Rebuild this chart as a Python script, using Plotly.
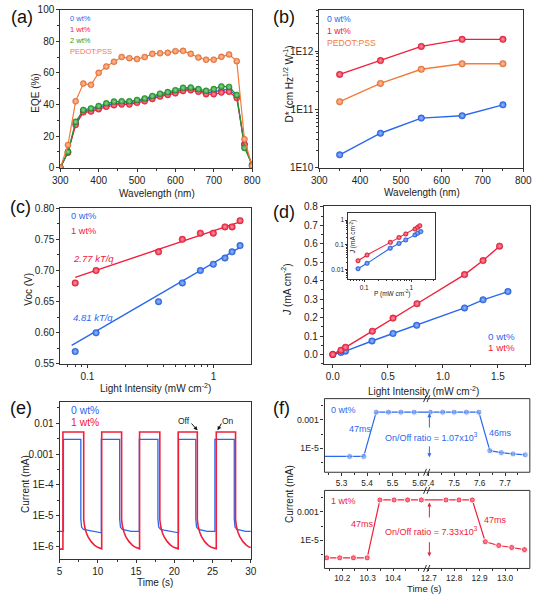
import plotly.graph_objects as go

W, H = 543, 599
FONT = "Liberation Sans"
BLUE = "#2a68ee"
RED = "#f0203c"
ORANGE = "#f67a3a"
GREEN = "#1f9a28"
AX = "#333333"

# ---------------- data ----------------
# (a) EQE
eqe_wl = [300, 320, 340, 360, 380, 400, 420, 440, 460, 480, 500, 520, 540, 560,
          580, 600, 620, 640, 660, 680, 700, 720, 740, 760, 780, 800]
eqe_0wt = [0, 10, 28, 36, 36.5, 38, 39.5, 40.5, 41, 41, 42, 43, 44.5, 46, 47, 48,
           49.5, 50, 49, 47.5, 48, 49, 49.5, 45, 15, 1.5]
eqe_1wt = [0, 9.5, 27, 35, 35.5, 37, 38.5, 39.5, 40, 40, 41, 42, 43.5, 45, 46, 47,
           48.5, 49, 48, 46.5, 46.5, 47.5, 48, 44, 14.5, 1]
eqe_2wt = [0, 10, 29, 36.5, 37.5, 39, 40.7, 41.8, 42, 42, 42.8, 43.8, 45.3, 46.8,
           47.8, 49, 50.5, 50.7, 49.7, 48.6, 49.7, 51.4, 51.1, 46, 12.5, 2]
eqe_pedot = [0, 14.4, 42, 53.2, 52.4, 60, 64, 67, 70, 69.3, 68.7, 70, 72, 72.4,
             72.7, 73.7, 73.9, 72, 69.7, 68.3, 68.3, 70.1, 71.6, 67.4, 18, 1]

# (b) detectivity
d_wl = [350, 450, 550, 650, 750]
d_0wt = [1.66e10, 3.9e10, 7.1e10, 7.8e10, 1.2e11]
d_1wt = [4.0e11, 6.9e11, 1.21e12, 1.6e12, 1.6e12]
d_pedot = [1.36e11, 2.8e11, 4.9e11, 6.1e11, 6.1e11]

# (c) Voc vs light intensity
c_int = [0.08, 0.117, 0.366, 0.565, 0.785, 0.994, 1.23, 1.40, 1.62]
c_voc_0wt = [0.57, 0.60, 0.65, 0.68, 0.70, 0.71, 0.72, 0.73, 0.74]
c_voc_1wt = [0.68, 0.70, 0.73, 0.75, 0.76, 0.76, 0.77, 0.77, 0.78]
c_fit0_x = [0.075, 1.62]
c_fit0_y = [0.58, 0.737]
c_fit1_x = [0.08, 1.62]
c_fit1_y = [0.689, 0.778]

# (d) J vs light intensity
j_int_0wt = [0, 0.074, 0.115, 0.356, 0.547, 0.762, 1.197, 1.365, 1.591]
j_0wt = [0, 0.011, 0.018, 0.073, 0.114, 0.158, 0.252, 0.296, 0.341]
j_int_1wt = [0, 0.074, 0.115, 0.359, 0.547, 0.765, 1.197, 1.365, 1.515]
j_1wt = [0, 0.023, 0.039, 0.126, 0.197, 0.275, 0.433, 0.509, 0.587]

# (e) on/off switching
e_red_on = [5.43, 10.50, 15.45, 20.50, 25.48]
e_red_off = [8.15, 13.10, 18.10, 23.00, 28.00]
e_red_high = 5.2e-3
e_red_start = 8.3e-7
e_red_decay_dt = [0.0, 0.13, 0.34, 0.55, 0.97, 1.4, 1.82, 2.3]
e_red_decay = [7.4e-6, 4.3e-6, 2.8e-6, 2.1e-6, 1.45e-6, 1.12e-6, 9.5e-7, 8.5e-7]
e_blue_on = [5.50, 10.45, 15.42, 20.55, 25.30]
e_blue_off = [7.77, 12.85, 17.85, 22.80, 27.83]
e_blue_high = 3.0e-3
e_blue_start = 3.1e-6
e_blue_decay_dt = [0.0, 0.1, 0.35, 0.8, 1.5, 2.6]
e_blue_decay = [7.9e-6, 4.3e-6, 3.6e-6, 3.4e-6, 3.1e-6, 2.8e-6]

# (f) response time
f0_t = [5.20, 5.332, 5.387, 5.436, 5.484, 5.533, 5.585, 7.406, 7.455, 7.500, 7.548,
        7.597, 7.640, 7.685, 7.731, 7.779]
f0_I = [2.7e-6, 2.7e-6, 2.7e-6, 3.55e-3, 3.55e-3, 3.55e-3, 3.55e-3, 3.55e-3, 3.55e-3,
        3.55e-3, 3.55e-3, 3.55e-3, 6.9e-6, 5.0e-6, 4.1e-6, 3.5e-6]
f1_t = [10.139, 10.19, 10.244, 10.298, 10.348, 10.404, 10.457, 10.511, 12.768, 12.819,
        12.871, 12.922, 12.975, 13.026, 13.076]
f1_I = [5.8e-7, 5.8e-7, 5.8e-7, 5.8e-7, 6.8e-3, 6.8e-3, 6.8e-3, 6.8e-3, 6.8e-3, 6.8e-3,
        6.8e-3, 7.9e-6, 4.3e-6, 3.1e-6, 2.2e-6]

# ---------------- helpers ----------------
def xd(a, b):
    return [a / W, b / W]

def yd(top, bot):
    return [1 - bot / H, 1 - top / H]

def px(x):
    return x / W

def py(y):
    return 1 - y / H

def tint(hexc, f):
    r, g, b = int(hexc[1:3], 16), int(hexc[3:5], 16), int(hexc[5:7], 16)
    r, g, b = [int(c + (255 - c) * f) for c in (r, g, b)]
    return "rgb(%d,%d,%d)" % (r, g, b)

def shade(hexc, f):
    r, g, b = int(hexc[1:3], 16), int(hexc[3:5], 16), int(hexc[5:7], 16)
    r, g, b = [int(c * f) for c in (r, g, b)]
    return "rgb(%d,%d,%d)" % (r, g, b)

def mk(color, size):
    return dict(color=color, size=size, line=dict(color=shade(color, 0.8), width=0.5),
                gradient=dict(type="radial", color=tint(color, 0.55)))

def ax(**kw):
    d = dict(showline=True, mirror=True, linecolor=AX, linewidth=1, ticks="outside",
             ticklen=3, tickwidth=1, tickcolor=AX, showgrid=False, zeroline=False,
             tickfont=dict(size=10, color="#222", family=FONT))
    d.update(kw)
    return d

def minor(vals=None, dtick=None, ln=2):
    m = dict(ticks="outside", ticklen=ln, tickwidth=1, tickcolor=AX, showgrid=False)
    if vals is not None:
        m["tickmode"] = "array"
        m["tickvals"] = vals
    if dtick is not None:
        m["dtick"] = dtick
    return m

def decades(lo, hi):
    out = []
    for e in range(lo, hi):
        for k in (2, 3, 4, 5, 6, 7, 8, 9):
            out.append(k * 10 ** e)
    return out

fig = go.Figure()

def line_trace(x, y, color, xa, ya, size=6.5, width=1.2, mode="lines+markers", clip=True, sizes=None):
    m = mk(color, size if sizes is None else sizes)
    fig.add_trace(go.Scatter(x=x, y=y, mode=mode, xaxis=xa, yaxis=ya,
                             line=dict(color=color, width=width), marker=m,
                             cliponaxis=clip, showlegend=False, hoverinfo="skip"))

# (a)
line_trace(eqe_wl, eqe_0wt, BLUE, "x", "y", size=6)
line_trace(eqe_wl, eqe_1wt, RED, "x", "y", size=6)
line_trace(eqe_wl, eqe_2wt, GREEN, "x", "y", size=6)
line_trace(eqe_wl, eqe_pedot, ORANGE, "x", "y", size=6)
# (b)
line_trace(d_wl, d_0wt, BLUE, "x2", "y2", size=6.5, width=1.4)
line_trace(d_wl, d_1wt, RED, "x2", "y2", size=6.5, width=1.4)
line_trace(d_wl, d_pedot, ORANGE, "x2", "y2", size=6.5, width=1.4)
# (c)
line_trace(c_fit0_x, c_fit0_y, BLUE, "x3", "y3", mode="lines", width=1.4)
line_trace(c_fit1_x, c_fit1_y, RED, "x3", "y3", mode="lines", width=1.4)
line_trace(c_int, c_voc_0wt, BLUE, "x3", "y3", mode="markers", size=6.5)
line_trace(c_int, c_voc_1wt, RED, "x3", "y3", mode="markers", size=6.5)
# (d)
line_trace(j_int_0wt, j_0wt, BLUE, "x4", "y4", size=6.5, width=1.4)
line_trace(j_int_1wt, j_1wt, RED, "x4", "y4", size=6.5, width=1.4)
# (d) inset
line_trace(j_int_0wt[1:], j_0wt[1:], BLUE, "x5", "y5", size=4.5, width=1.1)
line_trace(j_int_1wt[1:], j_1wt[1:], RED, "x5", "y5", size=4.5, width=1.1)

# (e) build square-wave series from on/off times
def wave(t0, start, ons, offs, high, ddt, dv, tend):
    t, v = [t0], [start]
    last = start
    for i, (a, b) in enumerate(zip(ons, offs)):
        t += [a, a, b]
        v += [last, high, high]
        nxt = ons[i + 1] if i + 1 < len(ons) else tend
        for dt, val in zip(ddt, dv):
            if b + dt < nxt:
                t.append(b + dt)
                v.append(val)
                last = val
        if nxt == tend:
            t.append(tend)
            v.append(last)
    return t, v

bt, bv = wave(5.0, e_blue_start, e_blue_on, e_blue_off, e_blue_high, e_blue_decay_dt, e_blue_decay, 30.0)
rt, rv = wave(5.0, e_red_start, e_red_on, e_red_off, e_red_high, e_red_decay_dt, e_red_decay, 30.0)
fig.add_trace(go.Scatter(x=bt, y=bv, mode="lines", xaxis="x6", yaxis="y6",
                         line=dict(color=BLUE, width=1.3), showlegend=False, hoverinfo="skip"))
fig.add_trace(go.Scatter(x=rt, y=rv, mode="lines", xaxis="x6", yaxis="y6",
                         line=dict(color=RED, width=1.6), showlegend=False, hoverinfo="skip"))

# (f)
f0_sizes = [0] + [6] * (len(f0_t) - 1)
for xa in ("x7", "x8"):
    fig.add_trace(go.Scatter(x=f0_t, y=f0_I, mode="lines+markers", xaxis=xa, yaxis="y7",
                             line=dict(color=BLUE, width=1.2),
                             marker=dict(color=BLUE, size=f0_sizes, line=dict(color="white", width=1),
                                         gradient=dict(type="radial", color=tint(BLUE, 0.55))),
                             showlegend=False, hoverinfo="skip"))
for xa in ("x9", "x10"):
    fig.add_trace(go.Scatter(x=f1_t, y=f1_I, mode="lines+markers", xaxis=xa, yaxis="y9",
                             line=dict(color=RED, width=1.2),
                             marker=dict(color=RED, size=6, line=dict(color="white", width=1),
                                         gradient=dict(type="radial", color=tint(RED, 0.55))),
                             showlegend=False, hoverinfo="skip"))

# ---------------- axes ----------------
lay = dict(
    xaxis=ax(domain=xd(54, 252), range=[300, 800], dtick=100, anchor="y", minor=minor(dtick=50)),
    yaxis=ax(domain=yd(4.7, 165.7), range=[0, 100], dtick=20, anchor="x", minor=minor(dtick=10)),
    xaxis2=ax(domain=xd(321.3, 532), range=[300, 800], dtick=100, anchor="y2", minor=minor(dtick=50)),
    yaxis2=ax(domain=yd(5, 165.7), type="log", range=[10, 12.71], anchor="x2",
              tickvals=[1e10, 1e11, 1e12], ticktext=["1E10", "1E11", "1E12"],
              minor=minor(vals=decades(10, 13))),
    xaxis3=ax(domain=xd(54, 250.7), type="log", range=[-1.215, 0.295], anchor="y3",
              tickvals=[0.1, 1], ticktext=["0.1", "1"],
              minor=minor(vals=decades(-2, 1))),
    yaxis3=ax(domain=yd(207, 365.7), range=[0.55, 0.80], anchor="x3",
              tickvals=[0.55, 0.60, 0.65, 0.70, 0.75, 0.80],
              ticktext=["0.55", "0.60", "0.65", "0.70", "0.75", "0.80"],
              minor=minor(dtick=0.025)),
    xaxis4=ax(domain=xd(326, 538.7), range=[-0.082, 1.79], anchor="y4",
              tickvals=[0, 0.5, 1.0, 1.5], ticktext=["0.0", "0.5", "1.0", "1.5"],
              minor=minor(dtick=0.25)),
    yaxis4=ax(domain=yd(204.7, 365.7), range=[-0.0516, 0.805], anchor="x4",
              tickvals=[0, 0.1, 0.2, 0.3, 0.4, 0.5, 0.6, 0.7, 0.8],
              ticktext=["0.0", "0.1", "0.2", "0.3", "0.4", "0.5", "0.6", "0.7", "0.8"],
              minor=minor(dtick=0.05)),
    xaxis5=ax(domain=xd(351.3, 441.3), type="log", range=[-1.337, 0.513], anchor="y5",
              tickvals=[0.1, 1], ticktext=["0.1", "1"], ticklen=2,
              tickfont=dict(size=6.5, color="#222", family=FONT),
              minor=minor(vals=decades(-2, 1), ln=1.2)),
    yaxis5=ax(domain=yd(211.7, 279), type="log", range=[-2.37, 0.29], anchor="x5",
              tickvals=[0.01, 0.1, 1], ticktext=["0.01", "0.1", "1"], ticklen=2,
              tickfont=dict(size=6.5, color="#222", family=FONT),
              minor=minor(vals=decades(-3, 1), ln=1.2)),
    xaxis6=ax(domain=xd(53.3, 250.7), range=[5, 30], dtick=5, anchor="y6", minor=minor(dtick=2.5)),
    yaxis6=ax(domain=yd(404.7, 564), type="log", range=[-6.39, -1.32], anchor="x6",
              tickvals=[1e-6, 1e-5, 1e-4, 1e-3, 1e-2],
              ticktext=["1E-6", "1E-5", "1E-4", "0.001", "0.01"],
              minor=minor(vals=[10 ** (e + 0.5) for e in range(-7, -1)])),
)

ftick = dict(size=8.3, color="#222", family=FONT)
def fax(dom, rng, anchor, vals, texts, mvals, tl=2.5):
    return ax(domain=dom, range=rng, anchor=anchor, showline=False, mirror=False, ticklen=tl,
              tickvals=vals, ticktext=texts, tickfont=ftick, minor=minor(vals=mvals, ln=1.5))

lay["xaxis7"] = fax(xd(326.7, 434.3), [5.233, 5.642], "y7", [5.3, 5.4, 5.5, 5.6],
                    ["5.3", "5.4", "5.5", "5.6"], [5.25, 5.35, 5.45, 5.55])
lay["xaxis8"] = fax(xd(434.3, 538.7), [7.4, 7.797], "y7", [7.4, 7.5, 7.6, 7.7],
                    ["7.4", "7.5", "7.6", "7.7"], [7.45, 7.55, 7.65, 7.75])
lay["xaxis9"] = fax(xd(326.7, 434.3), [10.13, 10.54], "y9", [10.2, 10.3, 10.4],
                    ["10.2", "10.3", "10.4"], [10.15, 10.25, 10.35, 10.45, 10.5], tl=2)
lay["xaxis10"] = fax(xd(434.3, 538.7), [12.7, 13.097], "y9", [12.7, 12.8, 12.9, 13.0],
                     ["12.7", "12.8", "12.9", "13.0"], [12.75, 12.85, 12.95, 13.05], tl=2)
lay["yaxis7"] = ax(domain=yd(401, 476), type="log", range=[-6.68, -1.50], anchor="x7",
                   showline=False, mirror=False, tickfont=dict(size=8.7, color="#222", family=FONT),
                   tickvals=[1e-5, 1e-3], ticktext=["1E-5", "0.001"],
                   minor=minor(vals=[1e-6, 1e-4, 1e-2]))
lay["yaxis9"] = ax(domain=yd(494.5, 574), type="log", range=[-6.98, -1.50], anchor="x9",
                   showline=False, mirror=False, tickfont=dict(size=8.7, color="#222", family=FONT),
                   tickvals=[1e-5, 1e-3], ticktext=["1E-5", "0.001"],
                   minor=minor(vals=[1e-6, 1e-4, 1e-2]))

# ---------------- annotations ----------------
ann = []

def txt(x, y, s, size=10, color="#222", xanchor="left", angle=0, yanchor="middle"):
    ann.append(dict(x=px(x), y=py(y), xref="paper", yref="paper", text=s, showarrow=False,
                    xanchor=xanchor, yanchor=yanchor, textangle=angle,
                    font=dict(size=size, color=color, family=FONT)))

def arrow(hx, hy, tx, ty, color):
    ann.append(dict(x=px(hx), y=py(hy), xref="paper", yref="paper", text="", showarrow=True,
                    ax=tx - hx, ay=ty - hy, arrowhead=2, arrowsize=0.8, arrowwidth=1,
                    arrowcolor=color))

# panel labels
for lab, x, y in (("(a)", 1, 12.5), ("(b)", 272, 12.5), ("(c)", 0, 206),
                  ("(d)", 272, 211), ("(e)", 0, 411), ("(f)", 272, 411)):
    txt(x, y, lab, size=18, color="#111")

# (a)
txt(61.7, 14, "0 wt%", 7.5, BLUE)
txt(61.7, 25, "1 wt%", 7.5, RED)
txt(61.7, 35.7, "2 wt%", 7.5, GREEN)
txt(61.7, 47.7, "PEDOT:PSS", 7.5, ORANGE)
txt(28.3, 90, "EQE (%)", 10, angle=-90, xanchor="center")
txt(153.3, 192.3, "Wavelength (nm)", 10, xanchor="center")
# (b)
txt(327, 14.7, "0 wt%", 8.7, BLUE)
txt(327, 26, "1 wt%", 8.7, RED)
txt(327, 38.3, "PEDOT:PSS", 8.7, ORANGE)
txt(289, 80, "D* (cm Hz<sup>1/2</sup> W<sup>-1</sup>)", 10, angle=-90, xanchor="center")
txt(427, 190.7, "Wavelength (nm)", 10, xanchor="center")
# (c)
txt(63.3, 215, "0 wt%", 9.3, BLUE)
txt(63.3, 230.7, "1 wt%", 9.3, RED)
txt(65, 258.3, "<i>2.77 kT/q</i>", 9.5, RED)
txt(65, 318.3, "<i>4.81 kT/q</i>", 9.5, BLUE)
txt(21.7, 290, "Voc (V)", 10, angle=-90, xanchor="center")
txt(152.7, 390, "Light Intensity (mW cm<sup>-2</sup>)", 10, xanchor="center")
# (d)
txt(525, 337.3, "0 wt%", 9.8, BLUE, xanchor="right")
txt(525, 349, "1 wt%", 9.8, RED, xanchor="right")
txt(287, 290, "<i>J</i> (mA cm<sup>-2</sup>)", 10, angle=-90, xanchor="center")
txt(428.7, 393.3, "Light Intensity (mW cm<sup>-2</sup>)", 10, xanchor="center")
txt(356, 236.7, "<i>J</i> (mA cm<sup>-2</sup>)", 6.5, angle=-90, xanchor="center")
txt(396.7, 294, "P (mW cm<sup>-2</sup>)", 6.5, xanchor="center")
# (e)
txt(63.3, 413.3, "0 wt%", 10.4, BLUE)
txt(63.3, 425, "1 wt%", 10.4, RED)
txt(181.7, 423.3, "Off", 8.5, xanchor="center")
txt(227.5, 423.3, "On", 8.5, xanchor="center")
arrow(195.7, 433.3, 188.3, 425, "#111")
arrow(216.3, 433.3, 221, 425, "#111")
txt(18.3, 488.3, "Current (mA)", 10, angle=-90, xanchor="center")
txt(151.7, 588.3, "Time (s)", 10, xanchor="center")
# (f)
txt(331.7, 412.7, "0 wt%", 9, BLUE)
txt(350, 432.3, "47ms", 9, BLUE)
txt(387.3, 440, "On/Off ratio = 1.07x10<sup>3</sup>", 9, BLUE)
txt(494, 435.7, "46ms", 9, BLUE)
arrow(435, 416, 435, 431.7, BLUE)
arrow(435, 460.7, 435, 448.3, BLUE)
txt(331.7, 505, "1 wt%", 9, RED)
txt(351.7, 528.3, "47ms", 9, RED)
txt(387, 536, "On/Off ratio = 7.33x10<sup>3</sup>", 9, RED)
txt(489, 525, "47ms", 9, RED)
arrow(435, 506.7, 435, 523.3, RED)
arrow(435, 561.7, 435, 546, RED)
txt(290, 498.3, "Current (mA)", 10, angle=-90, xanchor="center")
txt(429.3, 594, "Time (s)", 9.5, xanchor="center")

# ---------------- shapes ----------------
shapes = []
for (l, t, r, b) in ((326.7, 401, 538.7, 476), (326.7, 494.5, 538.7, 574)):
    shapes.append(dict(type="rect", xref="paper", yref="paper", x0=px(l), x1=px(r),
                       y0=py(b), y1=py(t), line=dict(color=AX, width=1)))
for yb in (401, 476, 494.5, 574):
    for dx in (-3.5, 0):
        shapes.append(dict(type="line", xref="paper", yref="paper",
                           x0=px(432.5 + dx), y0=py(yb + 3.5), x1=px(435.5 + dx), y1=py(yb - 3.5),
                           line=dict(color=AX, width=1)))

fig.update_layout(width=W, height=H, margin=dict(l=0, r=0, t=0, b=0),
                  paper_bgcolor="white", plot_bgcolor="rgba(0,0,0,0)",
                  font=dict(family=FONT, size=10, color="#222"),
                  showlegend=False, annotations=ann, shapes=shapes, **lay)
fig.write_html("out.html", config=dict(displayModeBar=False),
               post_script="document.body.style.margin='0px';")
